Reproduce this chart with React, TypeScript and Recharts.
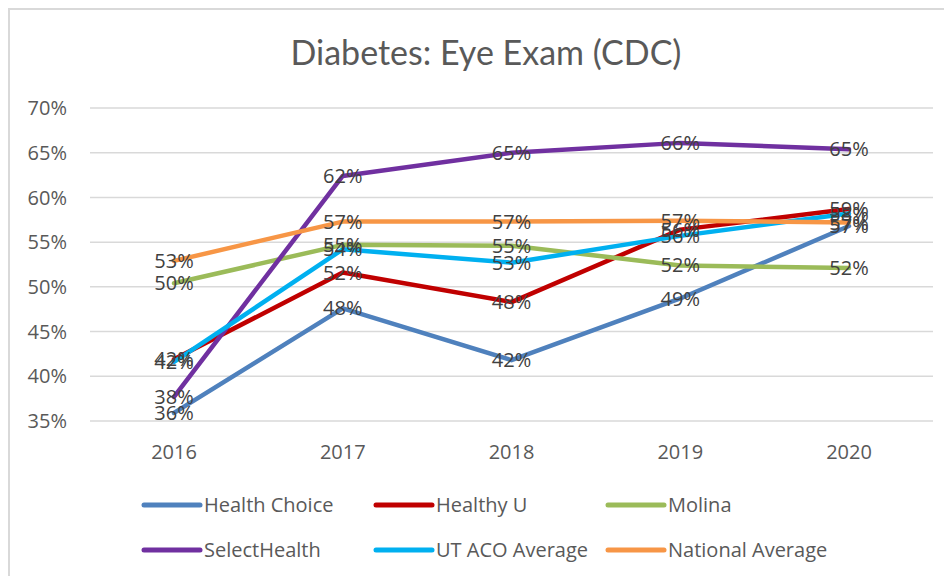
import { LineChart, Line, XAxis, YAxis, CartesianGrid, LabelList } from 'recharts';

const years = ['2016', '2017', '2018', '2019', '2020'];
const healthChoice = [35.9, 47.6, 41.8, 48.7, 56.8];
const healthyU = [41.9, 51.6, 48.3, 56.4, 58.7];
const molina = [50.4, 54.7, 54.6, 52.4, 52.1];
const selectHealth = [37.7, 62.4, 65.0, 66.1, 65.4];
const utAcoAverage = [41.6, 54.2, 52.7, 55.7, 58.2];
const nationalAverage = [52.9, 57.3, 57.3, 57.4, 57.2];
const yTicks = [35, 40, 45, 50, 55, 60, 65, 70];

const series = [
  { key: 'healthChoice', name: 'Health Choice', color: '#4F81BD', values: healthChoice },
  { key: 'healthyU', name: 'Healthy U', color: '#C00000', values: healthyU },
  { key: 'molina', name: 'Molina', color: '#9BBB59', values: molina },
  { key: 'selectHealth', name: 'SelectHealth', color: '#7030A0', values: selectHealth },
  { key: 'utAco', name: 'UT ACO Average', color: '#00B0F0', values: utAcoAverage },
  { key: 'national', name: 'National Average', color: '#F79646', values: nationalAverage },
];

const data = years.map((year, i) => {
  const row: Record<string, string | number> = { year };
  series.forEach((s) => {
    row[s.key] = s.values[i];
  });
  return row;
});

const W = 940;
const H = 566;
const tickFont = { fontFamily: 'Open Sans', fontSize: 20, fill: '#595959' };

export default function App() {
  return (
    <div
      style={{
        position: 'relative',
        width: W,
        height: H,
        borderLeft: '2px solid #d9d9d9',
        borderTop: '2px solid #d9d9d9',
        background: '#fff',
      }}
    >
      <LineChart
        width={W}
        height={H}
        data={data}
        margin={{ top: 98, right: 17, bottom: 115, left: 0 }}
      >
        <CartesianGrid vertical={false} stroke="#d9d9d9" strokeWidth={1.5} />
        <XAxis
          dataKey="year"
          height={40}
          axisLine={false}
          tickLine={false}
          tickSize={0}
          tickMargin={24}
          padding={{ left: 84, right: 84 }}
          tick={tickFont}
        />
        <YAxis
          width={80}
          domain={[35, 70]}
          ticks={yTicks}
          axisLine={false}
          tickLine={false}
          tickSize={0}
          tickMargin={23}
          tickFormatter={(v: number) => `${v}%`}
          tick={tickFont}
        />
        {series.map((s) => (
          <Line
            key={s.key}
            dataKey={s.key}
            name={s.name}
            stroke={s.color}
            strokeWidth={4.5}
            strokeLinecap="round"
            strokeLinejoin="round"
            dot={false}
            type="linear"
            isAnimationActive={false}
          />
        ))}
        {/* second pass so every data label sits above every line */}
        {series.map((s) => (
          <Line
            key={s.key + '-labels'}
            dataKey={s.key}
            stroke="none"
            dot={false}
            legendType="none"
            isAnimationActive={false}
          >
            <LabelList
              dataKey={s.key}
              position="center"
              formatter={(v: number) => `${Math.round(v)}%`}
              style={{ fontFamily: 'Open Sans', fontSize: 20, fill: '#404040' }}
            />
          </Line>
        ))}
      </LineChart>
      <svg
        width={W}
        height={H}
        style={{ position: 'absolute', left: 0, top: 0, pointerEvents: 'none' }}
      >
        <text
          x={476}
          y={55}
          textAnchor="middle"
          fontFamily="Lato"
          fontSize={34}
          fill="#595959"
        >
          Diabetes: Eye Exam (CDC)
        </text>
        {series.map((s, i) => {
          const x = 134 + (i % 3) * 232;
          const y = 495 + Math.floor(i / 3) * 45;
          return (
            <g key={s.key}>
              <line x1={x} y1={y} x2={x + 56} y2={y} stroke={s.color} strokeWidth={5} strokeLinecap="round" />
              <text x={x + 60} y={y + 7} fontFamily="Open Sans" fontSize={20} fill="#595959">
                {s.name}
              </text>
            </g>
          );
        })}
      </svg>
    </div>
  );
}
